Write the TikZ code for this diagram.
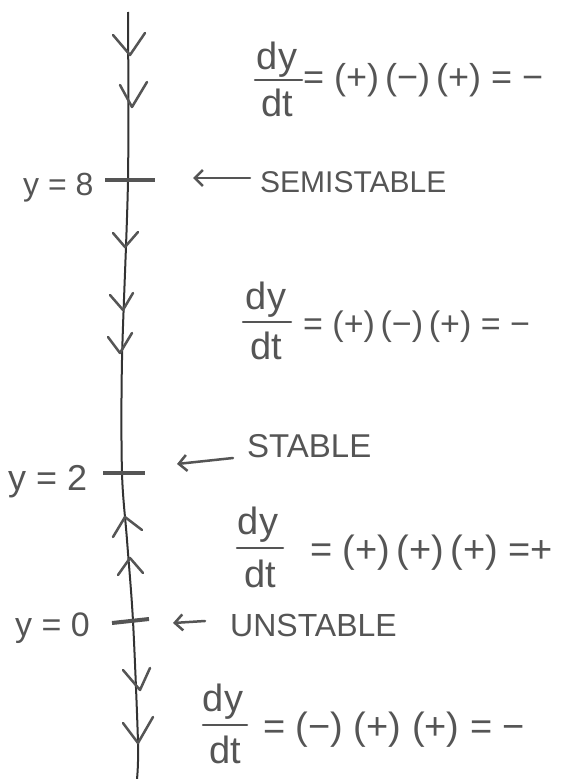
\documentclass[tikz,border=0pt]{standalone}
\usepackage{fontspec}
\setmainfont{Liberation Sans}
\usetikzlibrary{arrows.meta}
\definecolor{pencil}{HTML}{555555}
\definecolor{lead}{HTML}{333333}
\begin{document}
\begin{tikzpicture}[x=1pt,y=-1pt,
  fs/.style={font=\fontsize{#1}{#1}\selectfont},
  txt/.style={text=pencil, inner sep=0pt},
  tickmark/.style={draw=pencil, line width=4pt},
  chev/.style={draw=pencil, line width=2.5pt, line cap=round, line join=round},
  ptr/.style={draw=pencil, line width=2.5pt, line cap=round, -{Straight Barb[length=8pt,width=16pt]}},
  fbar/.style={draw=pencil, line width=2.5pt, line cap=round}]
\fill[white] (0,0) rectangle (581,779);
\useasboundingbox (0,0) rectangle (581,779);

% phase line
\draw[lead, line width=2pt] plot[smooth] coordinates {(128,12) (128,180) (122,360) (122,473) (127,540) (133,621) (138,743) (137,779)};

% equilibrium ticks
\draw[tickmark] (105,180) -- (155,180);
\draw[tickmark] (103,473) -- (145,473);
\draw[tickmark] (112,623) -- (149,619);

% direction chevrons
\draw[chev] (113,35) -- (130,55) -- (145,33);
\draw[chev] (120,85) -- (132,107) -- (147,82);
\draw[chev] (113,233) -- (125,247) -- (138,232);
\draw[chev] (110,295) -- (123,310) -- (133,293);
\draw[chev] (108,337) -- (120,353) -- (132,333);
\draw[chev] (113,537) -- (125,517) -- (142,530);
\draw[chev] (118,575) -- (130,558) -- (143,573);
\draw[chev] (123,670) -- (140,690) -- (150,668);
\draw[chev] (123,723) -- (138,743) -- (153,717);

% equilibrium labels
\node[txt, fs=32, anchor=base west] (l8) at (23,195) {y = 8};
\node[txt, fs=36, anchor=base west] (l2) at (8,490) {y = 2};
\node[txt, fs=34, anchor=base west] (l0) at (15,636) {y = 0};

% stability labels
\node[txt, fs=30, anchor=west] (semi) at (260,182) {SEMISTABLE};
\node[txt, fs=33, anchor=west] (stab) at (247,446) {STABLE};
\node[txt, fs=32, anchor=west] (unst) at (230,625) {UNSTABLE};
\coordinate (semiS) at (250,178);
\coordinate (semiT) at (193,178);
\coordinate (stabS) at (233,458);
\coordinate (stabT) at (177,464);
\coordinate (unstS) at (205,621);
\coordinate (unstT) at (173,623);
\draw[ptr] (semiS) -- (semiT);
\draw[ptr] (stabS) -- (stabT);
\draw[ptr] (unstS) -- (unstT);

% equation 1
\node[txt, fs=38] (n1) at (277,60) {dy};
\node[txt, fs=38] (d1) at (277,103) {dt};
\draw[fbar] (255,80) -- (302,80);
\node[txt, fs=36, anchor=west] (r1) at (303,80) {= (+)\,(−)\,(+) = −};

% equation 2
\node[txt, fs=38] (n2) at (266,300) {dy};
\node[txt, fs=38] (d2) at (266,346) {dt};
\draw[fbar] (243,322) -- (291,322);
\node[txt, fs=34, anchor=west] (r2) at (303,327) {= (+)\,(−)\,(+) = −};

% equation 3
\node[txt, fs=38] (n3) at (258,525) {dy};
\node[txt, fs=38] (d3) at (260,574) {dt};
\draw[fbar] (237,548) -- (283,548);
\node[txt, fs=38, anchor=west] (r3) at (310,553) {= (+)\,(+)\,(+) =+};

% equation 4
\node[txt, fs=38] (n4) at (223,702) {dy};
\node[txt, fs=38] (d4) at (225,750) {dt};
\draw[fbar] (203,725) -- (247,725);
\node[txt, fs=38, anchor=west] (r4) at (263,730) {= (−) (+) (+) = −};
\end{tikzpicture}
\end{document}
